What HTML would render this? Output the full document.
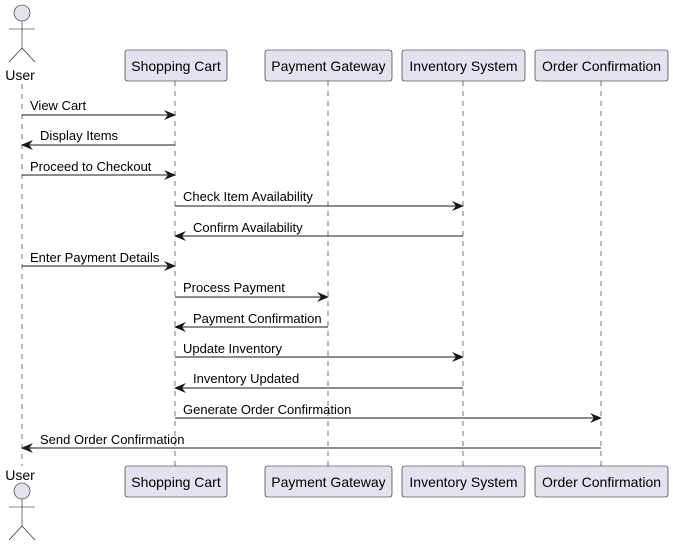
<!DOCTYPE html>
<html><head><style>
html,body{margin:0;padding:0;background:#fff;}
svg text{font-family:"Liberation Sans",sans-serif;}
</style></head><body>
<svg width="673" height="547" viewBox="0 0 673 547" xmlns="http://www.w3.org/2000/svg">
<defs>
<marker id="a" viewBox="0 0 12 10" refX="11" refY="5" markerWidth="12" markerHeight="10" markerUnits="userSpaceOnUse" orient="auto">
<path d="M0,0 L12,5 L0,10 L4,5 Z" fill="#181818"/>
</marker>
</defs>
<g stroke="#181818" stroke-width="0.6" stroke-dasharray="5,5" fill="none">
<line x1="22" y1="84" x2="22" y2="466"/>
<line x1="175" y1="81" x2="175" y2="466"/>
<line x1="328" y1="81" x2="328" y2="466"/>
<line x1="463" y1="81" x2="463" y2="466"/>
<line x1="601" y1="81" x2="601" y2="466"/>
</g>
<g fill="#E2E2F0" stroke="#181818" stroke-width="0.6">
<rect x="125" y="50" width="102" height="31" rx="2.5"/>
<rect x="265" y="50" width="127" height="31" rx="2.5"/>
<rect x="402" y="50" width="123" height="31" rx="2.5"/>
<rect x="535" y="50" width="133" height="31" rx="2.5"/>
<rect x="125" y="466" width="102" height="31" rx="2.5"/>
<rect x="265" y="466" width="127" height="31" rx="2.5"/>
<rect x="402" y="466" width="123" height="31" rx="2.5"/>
<rect x="535" y="466" width="133" height="31" rx="2.5"/>
<circle cx="22" cy="13" r="8"/>
<circle cx="22" cy="491" r="8"/>
</g>
<g stroke="#181818" stroke-width="0.6" fill="none">
<path d="M22,21 V48 M9,29 H35 M9,62 L22,48 L35,62"/>
<path d="M22,499 V526 M9,507 H35 M9,540 L22,526 L35,540"/>
</g>
<g font-size="14" fill="#000" text-anchor="middle">
<text x="176" y="71">Shopping Cart</text>
<text x="328.5" y="71">Payment Gateway</text>
<text x="463.5" y="71">Inventory System</text>
<text x="601.5" y="71">Order Confirmation</text>
<text x="176" y="487">Shopping Cart</text>
<text x="328.5" y="487">Payment Gateway</text>
<text x="463.5" y="487">Inventory System</text>
<text x="601.5" y="487">Order Confirmation</text>
<text x="20" y="80">User</text>
<text x="20" y="480">User</text>
</g>
<g stroke="#181818" stroke-width="1" marker-end="url(#a)">
<line x1="22" y1="115" x2="175" y2="115"/>
<line x1="175" y1="145" x2="22" y2="145"/>
<line x1="22" y1="175" x2="175" y2="175"/>
<line x1="175" y1="206" x2="463" y2="206"/>
<line x1="463" y1="236" x2="175" y2="236"/>
<line x1="22" y1="266" x2="175" y2="266"/>
<line x1="175" y1="297" x2="328" y2="297"/>
<line x1="328" y1="327" x2="175" y2="327"/>
<line x1="175" y1="357" x2="463" y2="357"/>
<line x1="463" y1="388" x2="175" y2="388"/>
<line x1="175" y1="418" x2="601" y2="418"/>
<line x1="601" y1="448" x2="22" y2="448"/>
</g>
<g font-size="13" fill="#000">
<text x="30" y="110">View Cart</text>
<text x="40" y="140">Display Items</text>
<text x="30" y="171">Proceed to Checkout</text>
<text x="183" y="201">Check Item Availability</text>
<text x="193" y="232">Confirm Availability</text>
<text x="30" y="262">Enter Payment Details</text>
<text x="183" y="292">Process Payment</text>
<text x="193" y="323">Payment Confirmation</text>
<text x="183" y="353">Update Inventory</text>
<text x="193" y="383">Inventory Updated</text>
<text x="183" y="414">Generate Order Confirmation</text>
<text x="40" y="444">Send Order Confirmation</text>
</g>
</svg>
</body></html>
